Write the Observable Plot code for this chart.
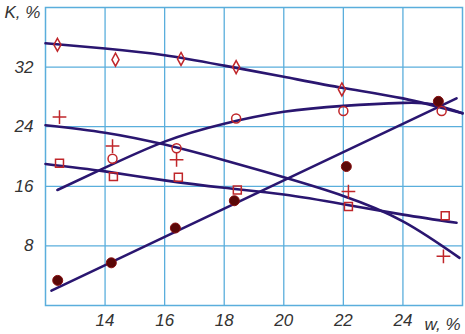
<!DOCTYPE html>
<html><head><meta charset="utf-8">
<script src="https://cdn.jsdelivr.net/npm/d3@7"></script>
<script src="https://cdn.jsdelivr.net/npm/@observablehq/plot@0.6"></script>
<style>body{margin:0;background:#fff}</style>
</head><body><div id="chart"></div>
<script>
// tick labels
const xTicks = [14, 16, 18, 20, 22, 24];
const yTicks = [8, 16, 24, 32];
const xLabel = "w, %";
const yLabel = "K, %";

// measured points
const diamondW = [12.4, 14.35, 16.55, 18.4, 21.95];
const diamondK = [35.0, 33.0, 33.1, 32.0, 29.0];
const circleW = [14.25, 16.4, 18.4, 22.0, 25.3];
const circleK = [19.7, 21.1, 25.1, 26.1, 26.1];
const plusW = [12.47, 14.25, 16.4, 22.17, 25.36];
const plusK = [25.3, 21.4, 19.55, 15.3, 6.6];
const squareW = [12.47, 14.28, 16.46, 18.44, 22.17, 25.42];
const squareK = [19.1, 17.3, 17.2, 15.5, 13.3, 12.06];
const filledW = [12.41, 14.21, 16.36, 18.34, 22.1, 25.19];
const filledK = [3.37, 5.73, 10.4, 14.06, 18.65, 27.4];

// fitted curves
const diamondCurveW = [12, 14, 16, 18, 20, 22, 24, 26];
const diamondCurveK = [35.2, 34.5, 33.6, 32.2, 30.7, 29.2, 27.8, 25.8];
const circleCurveW = [12.4, 14, 16, 18, 20, 22, 24, 25, 26];
const circleCurveK = [15.5, 18.5, 22.0, 24.4, 26.0, 26.8, 27.2, 27.0, 25.8];
const plusCurveW = [12, 14, 16, 18, 20, 22, 24, 25.9];
const plusCurveK = [24.2, 23.2, 21.6, 19.5, 17.2, 14.7, 11.3, 6.4];
const squareCurveW = [12, 14, 16, 18, 20, 22, 24, 25.8];
const squareCurveK = [19.0, 18.0, 16.8, 15.8, 14.9, 13.6, 12.2, 11.1];
const filledLineW = [12.2, 25.8];
const filledLineK = [2.0, 27.8];

const zip = (xs, ys) => xs.map((x, i) => ({x, y: ys[i]}));

const tallDiamond = {
  draw(ctx, size) {
    const s = Math.sqrt(size);
    const hw = 0.4 * s, hh = 0.73 * s;
    ctx.moveTo(0, -hh);
    ctx.lineTo(hw, 0);
    ctx.lineTo(0, hh);
    ctx.lineTo(-hw, 0);
    ctx.closePath();
  }
};

const grid = "#5aaedc";
const lineC = "#2a1670";
const markC = "#c0262a";
const fontFam = "'Liberation Sans Narrow', 'Liberation Sans', 'DejaVu Sans', sans-serif";

const lineOpts = {x: "x", y: "y", stroke: lineC, strokeWidth: 2.6, curve: "natural"};

const chart = Plot.plot({
  width: 465,
  height: 334,
  marginLeft: 45,
  marginRight: 3,
  marginTop: 7,
  marginBottom: 29,
  style: {fontFamily: fontFam, fontStyle: "italic", fontSize: "17px", color: "#333", background: "#fff"},
  x: {domain: [12, 26]},
  y: {domain: [0, 40]},
  marks: [
    Plot.gridX(xTicks, {stroke: grid, strokeOpacity: 1, strokeWidth: 1.3}),
    Plot.gridY(yTicks, {stroke: grid, strokeOpacity: 1, strokeWidth: 1.3}),
    Plot.frame({stroke: grid, strokeWidth: 1.5}),
    Plot.axisX(xTicks, {tickSize: 0, tickPadding: 8, label: null, fill: "#333"}),
    Plot.axisY(yTicks, {tickSize: 0, tickPadding: 12, label: null, fill: "#333"}),
    Plot.text([xLabel], {frameAnchor: "bottom-right", dx: -2, dy: 24, fill: "#333"}),
    Plot.text([yLabel], {frameAnchor: "top-left", dx: -41, dy: -2, fill: "#333"}),
    Plot.line(zip(diamondCurveW, diamondCurveK), lineOpts),
    Plot.line(zip(circleCurveW, circleCurveK), lineOpts),
    Plot.line(zip(plusCurveW, plusCurveK), lineOpts),
    Plot.line(zip(squareCurveW, squareCurveK), lineOpts),
    Plot.line(zip(filledLineW, filledLineK), {...lineOpts, curve: "linear"}),
    Plot.dot(zip(diamondW, diamondK), {x: "x", y: "y", symbol: tallDiamond, r: 5, stroke: markC, strokeWidth: 1.5, fill: "none"}),
    Plot.dot(zip(circleW, circleK), {x: "x", y: "y", symbol: "circle", r: 4.5, stroke: markC, strokeWidth: 1.5, fill: "none"}),
    Plot.dot(zip(plusW, plusK), {x: "x", y: "y", symbol: "plus", r: 4.5, stroke: markC, strokeWidth: 1.5}),
    Plot.dot(zip(squareW, squareK), {x: "x", y: "y", symbol: "square", r: 4.5, stroke: markC, strokeWidth: 1.5, fill: "none"}),
    Plot.dot(zip(filledW, filledK), {x: "x", y: "y", symbol: "circle", r: 5, fill: "#5a0808", stroke: "#8a1010", strokeWidth: 1})
  ]
});
document.getElementById("chart").appendChild(chart);
</script>
</body></html>
